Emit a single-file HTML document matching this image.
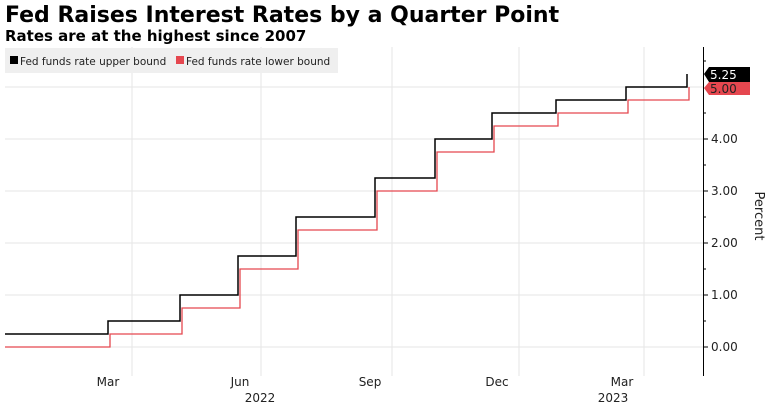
<!DOCTYPE html>
<html><head><style>
body{margin:0;background:#fff;width:765px;height:408px;overflow:hidden;font-family:"DejaVu Sans","Liberation Sans",sans-serif}
</style></head><body>
<svg width="765" height="408" xmlns="http://www.w3.org/2000/svg" font-family="DejaVu Sans, Liberation Sans, sans-serif">
<text x="5" y="22" font-size="22" font-weight="bold" fill="#000">Fed Raises Interest Rates by a Quarter Point</text>
<text x="5" y="41" font-size="15" font-weight="bold" fill="#000">Rates are at the highest since 2007</text>
<g stroke="#e6e6e6" stroke-width="1">
<line x1="132" y1="47" x2="132" y2="376"/><line x1="261" y1="47" x2="261" y2="376"/><line x1="392" y1="47" x2="392" y2="376"/><line x1="519" y1="47" x2="519" y2="376"/><line x1="644" y1="47" x2="644" y2="376"/>
<line x1="5" y1="347" x2="703" y2="347"/><line x1="5" y1="295" x2="703" y2="295"/><line x1="5" y1="243" x2="703" y2="243"/><line x1="5" y1="191" x2="703" y2="191"/><line x1="5" y1="139" x2="703" y2="139"/><line x1="5" y1="87" x2="703" y2="87"/>
</g>
<rect x="5" y="48" width="333" height="25" fill="#efefef"/>
<rect x="10" y="56" width="8" height="8" fill="#000"/>
<text x="20" y="65" font-size="10.5" fill="#222">Fed funds rate upper bound</text>
<rect x="176" y="56" width="8" height="8" fill="#e5474f"/>
<text x="186" y="65" font-size="10.5" fill="#222">Fed funds rate lower bound</text>
<line x1="703.5" y1="47" x2="703.5" y2="376" stroke="#000"/>
<g stroke="#000">
<line x1="703" y1="347" x2="708" y2="347"/><line x1="703" y1="295" x2="708" y2="295"/><line x1="703" y1="243" x2="708" y2="243"/><line x1="703" y1="191" x2="708" y2="191"/><line x1="703" y1="139" x2="708" y2="139"/>
<line x1="703" y1="321" x2="706" y2="321"/><line x1="703" y1="269" x2="706" y2="269"/><line x1="703" y1="217" x2="706" y2="217"/><line x1="703" y1="165" x2="706" y2="165"/><line x1="703" y1="113" x2="706" y2="113"/><line x1="703" y1="61" x2="706" y2="61"/>
</g>
<polyline fill="none" stroke="#e5474f" stroke-width="1.3" points="5,347 110,347 110,334 182,334 182,308 240,308 240,269 298,269 298,230 377,230 377,191 437,191 437,152 494,152 494,126 558,126 558,113 628,113 628,100 689,100 689,87"/>
<polyline fill="none" stroke="#000" stroke-width="1.5" points="5,334 108,334 108,321 180,321 180,295 238,295 238,256 296,256 296,217 375,217 375,178 435,178 435,139 492,139 492,113 556,113 556,100 626,100 626,87 687,87 687,74"/>
<g font-size="12" fill="#222">
<text x="711" y="351">0.00</text><text x="711" y="299">1.00</text><text x="711" y="247">2.00</text><text x="711" y="195">3.00</text><text x="711" y="143">4.00</text>
</g>
<path d="M704,74 L709,67 L750,67 L750,82 L709,82 Z" fill="#000"/>
<text x="710" y="79" font-size="12" fill="#fff">5.25</text>
<path d="M704,88 L709,82 L750,82 L750,95 L709,95 Z" fill="#e5474f"/>
<text x="710" y="93" font-size="12" fill="#222">5.00</text>
<text x="755" y="216" font-size="13" fill="#222" transform="rotate(90 755 216)" text-anchor="middle">Percent</text>
<g font-size="12" fill="#222" text-anchor="middle">
<text x="108" y="386">Mar</text><text x="240" y="386">Jun</text><text x="370" y="386">Sep</text><text x="497" y="386">Dec</text><text x="622" y="386">Mar</text>
<text x="260" y="402">2022</text><text x="613" y="402">2023</text>
</g>
</svg>
</body></html>
